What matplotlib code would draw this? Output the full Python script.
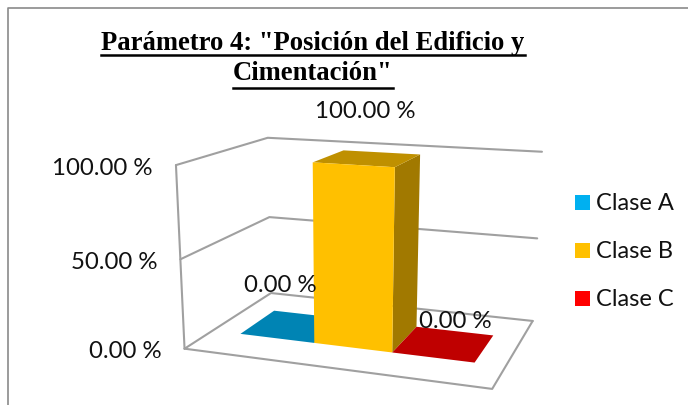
import numpy as np
import matplotlib
matplotlib.use("Agg")
import matplotlib.pyplot as plt
from matplotlib.patches import Polygon

# Data
series = ["Clase A", "Clase B", "Clase C"]
values = [0.0, 100.0, 0.0]
value_labels = ["0.00 %", "100.00 %", "0.00 %"]
ticks = [0, 50, 100]
tick_labels = ["0.00 %", "50.00 %", "100.00 %"]
colors = ["#00B0F0", "#FFC000", "#FF0000"]
title_lines = ['Parámetro 4: "Posición del Edificio y', 'Cimentación"']

# Perspective camera: world (x across 0..3, depth 0..1, value 0..100) -> pixel
world = np.array([(0,0,0),(3,0,0),(3,1,0),(0,1,0),(0,0,100),(0,1,100),(3,1,100),
                  (0,0,50),(0,1,50),(3,1,50)], float)
pix = np.array([(185,349),(492,389),(533,321),(270,293),(175,165),(268,138),(542,152),
                (181,259),(270,217),(537,238)], float)
A = []
for (X, Y, Z), (u, v) in zip(world, pix):
    A.append([X, Y, Z, 1, 0, 0, 0, 0, -u*X, -u*Y, -u*Z, -u])
    A.append([0, 0, 0, 0, X, Y, Z, 1, -v*X, -v*Y, -v*Z, -v])
P = np.linalg.svd(np.array(A))[2][-1].reshape(3, 4)


def proj(x, d, z):
    q = P @ np.array([x, d, z, 1.0])
    return q[0]/q[2], q[1]/q[2]


fig = plt.figure(figsize=(6.88, 4.05), dpi=100)
ax = fig.add_axes([0, 0, 1, 1])
ax.set_xlim(0, 688)
ax.set_ylim(405, 0)
ax.axis("off")

# chart frame
ax.plot([8, 8, 688], [405, 7.5, 7.5], color="#8a8a8a", lw=1.2)

grid = dict(color="#a0a0a0", lw=1.5, solid_capstyle="round", zorder=1)
for t in ticks:
    pts = [proj(0, 0, t), proj(0, 1, t), proj(3, 1, t)]
    ax.plot(*zip(*pts), **grid)
ax.plot(*zip(proj(0, 0, 0), proj(0, 0, 100)), **grid)
ax.plot(*zip(proj(0, 0, 0), proj(3, 0, 0), proj(3, 1, 0)), **grid)

WIDTH = 0.80
START = 0.31
D0, D1 = 0.29, 0.70


def shade(c, f):
    r = np.array(matplotlib.colors.to_rgb(c))*f
    return tuple(r)


for order in [0, 2, 1]:
    x0 = START + order*WIDTH
    x1 = x0 + WIDTH
    h = values[order]
    c = colors[order]
    top = [proj(x0, D0, h), proj(x1, D0, h), proj(x1, D1, h), proj(x0, D1, h)]
    if h > 0:
        ax.add_patch(Polygon([proj(x1, D0, 0), proj(x1, D1, 0), proj(x1, D1, h), proj(x1, D0, h)],
                             fc=shade(c, .63), ec="none", zorder=2+order))
    ax.add_patch(Polygon(top, fc=shade(c, .75), ec="none", zorder=2+order))
    if h > 0:
        ax.add_patch(Polygon([proj(x0, D0, 0), proj(x1, D0, 0), proj(x1, D0, h), proj(x0, D0, h)],
                             fc=c, ec="none", zorder=2+order))

# Labels
F = "Lato"
FS = 17.3
for t, l in zip(ticks, tick_labels):
    x, y = proj(0, 0, t)
    ax.text(x-23, y+3, l, ha="right", va="center", family=F, fontsize=FS, color="#111111")

ax.text(365, 112, value_labels[1], ha="center", va="center", family=F, fontsize=FS, color="#111111", zorder=9)
ax.text(280, 285, value_labels[0], ha="center", va="center", family=F, fontsize=FS, color="#111111", zorder=9)
ax.text(455, 321, value_labels[2], ha="center", va="center", family=F, fontsize=FS, color="#111111", zorder=9)

# Legend
for name, c, y in zip(series, colors, [202.5, 250.5, 298.5]):
    ax.add_patch(Polygon([(575, y-7.5), (590, y-7.5), (590, y+7.5), (575, y+7.5)], fc=c, ec="none"))
    ax.text(596, y+1, name, ha="left", va="center", family=F, fontsize=17, color="#111111")

# Title with underline
renderer = fig.canvas.get_renderer()
for line, y, uy in zip(title_lines, [44, 73], [55, 88]):
    t = ax.text(313, y, line, ha="center", va="center", family="Liberation Serif",
                fontweight="bold", fontsize=19.2, color="black")
    bb = t.get_window_extent(renderer)
    ax.plot([bb.x0, bb.x1], [uy, uy], color="black", lw=1.8)

fig.savefig("out.png", dpi=100)
